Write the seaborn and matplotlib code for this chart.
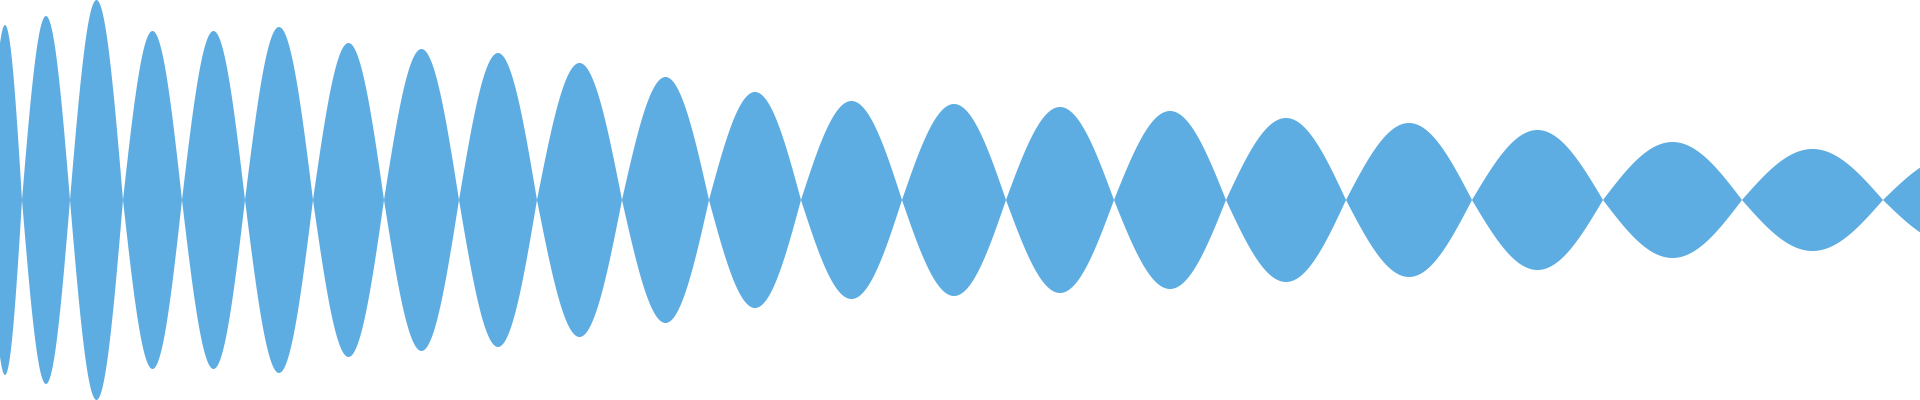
"""Symmetric waveform envelope, lobe by lobe."""
import matplotlib

matplotlib.use("Agg")
import matplotlib.pyplot as plt
import numpy as np
import seaborn as sns

# zero crossings (x, in pixels) and peak amplitude of each lobe between them
crossings = [-12, 22, 70, 123, 182, 245, 313, 384, 459, 537, 622, 709,
             801, 902, 1006, 1114, 1226, 1346, 1472, 1603, 1742, 1883, 2028]
peaks = [175, 184, 200, 169, 169, 173, 157, 151, 147, 137, 123, 108,
         99, 96, 93, 89, 82, 77, 70, 58, 51, 45]

FILL = "#5DADE2"

sns.set_style("white")

xs, ys = [], []
for a, b, amp in zip(crossings[:-1], crossings[1:], peaks):
    t = np.linspace(a, b, 120)
    xs.append(t)
    ys.append(amp * np.sin(np.pi * (t - a) / (b - a)))
x = np.concatenate(xs)
y = np.concatenate(ys)

fig = plt.figure(figsize=(19.2, 4), dpi=100)
ax = fig.add_axes([0, 0, 1, 1])
ax.fill_between(x, -y, y, color=FILL, linewidth=0)
ax.set_xlim(0, 1920)
ax.set_ylim(-200, 200)
ax.axis("off")
fig.savefig("out.png", dpi=100, facecolor="white")
plt.close(fig)
